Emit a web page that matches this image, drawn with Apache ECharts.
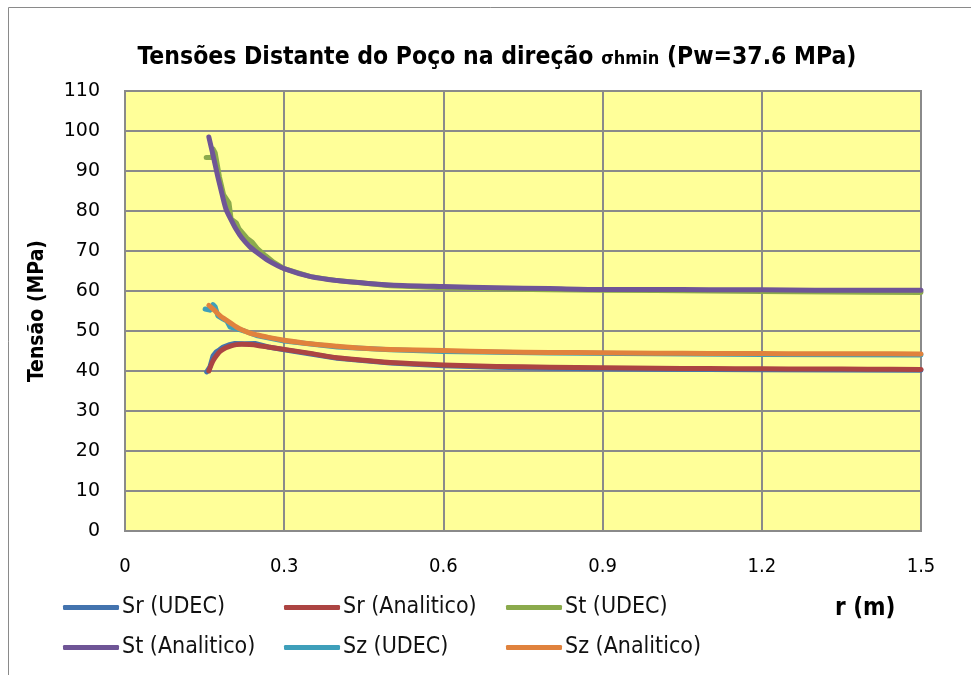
<!DOCTYPE html>
<html>
<head>
<meta charset="utf-8">
<script src="https://cdn.jsdelivr.net/npm/echarts@6/dist/echarts.min.js"></script>
<style>
  html, body { margin: 0; padding: 0; background: #ffffff; }
  #chart { width: 971px; height: 675px; }
</style>
</head>
<body>
<div id="chart"></div>
<script>
// Radial distance (m) for the analytical solution
const rAnalitico = [0.158, 0.165, 0.17, 0.175, 0.18, 0.19, 0.2, 0.21, 0.22, 0.235, 0.25, 0.27, 0.3, 0.35, 0.4, 0.45, 0.5, 0.6, 0.7, 0.8, 0.9, 1.0, 1.1, 1.2, 1.3, 1.4, 1.5];
const srAnalitico = [40.0, 42.3, 43.4, 44.3, 45.0, 45.8, 46.3, 46.6, 46.7, 46.6, 46.4, 46.0, 45.4, 44.4, 43.3, 42.7, 42.1, 41.5, 41.15, 40.95, 40.8, 40.7, 40.6, 40.55, 40.5, 40.45, 40.4];
const stAnalitico = [98.5, 94.5, 91.5, 88.5, 85.8, 80.6, 77.8, 75.3, 73.3, 71.1, 69.5, 67.6, 65.6, 63.6, 62.6, 62.0, 61.5, 61.1, 60.8, 60.6, 60.4, 60.4, 60.3, 60.3, 60.2, 60.2, 60.2];
const szAnalitico = [56.4, 55.6, 55.0, 54.3, 53.7, 52.8, 51.9, 51.0, 50.3, 49.5, 49.0, 48.4, 47.7, 46.8, 46.2, 45.7, 45.4, 45.1, 44.8, 44.65, 44.55, 44.45, 44.4, 44.35, 44.3, 44.3, 44.25];

// UDEC numerical results (radius, stress)
const rSrUdec = [0.154, 0.16, 0.166, 0.172, 0.178, 0.185, 0.195, 0.207, 0.225, 0.245, 0.27, 0.3, 0.4, 0.5, 0.6, 0.7, 0.8, 0.9, 1.0, 1.2, 1.5];
const srUdec = [39.8, 41.0, 43.8, 44.8, 45.3, 46.0, 46.5, 46.9, 46.8, 46.9, 46.0, 45.3, 43.2, 42.0, 41.3, 40.95, 40.7, 40.55, 40.45, 40.3, 40.2];
const rStUdec = [0.153, 0.165, 0.166, 0.17, 0.178, 0.186, 0.196, 0.2, 0.21, 0.215, 0.23, 0.24, 0.25, 0.265, 0.28, 0.3, 0.35, 0.4, 0.5, 0.6, 0.7, 0.8, 0.9, 1.0, 1.2, 1.4, 1.5];
const stUdec = [93.4, 93.4, 95.5, 94.5, 88.5, 84.0, 82.0, 78.0, 77.0, 75.5, 73.2, 72.2, 70.5, 68.8, 67.2, 65.6, 63.6, 62.6, 61.3, 60.8, 60.5, 60.3, 60.2, 60.1, 59.9, 59.7, 59.6];
const rSzUdec = [0.151, 0.16, 0.166, 0.17, 0.175, 0.185, 0.192, 0.198, 0.21, 0.225, 0.25, 0.3, 0.4, 0.5, 0.6, 0.8, 1.0, 1.2, 1.5];
const szUdec = [55.5, 55.2, 56.6, 56.0, 53.8, 53.0, 52.5, 51.0, 50.6, 50.0, 48.8, 47.5, 46.0, 45.3, 44.9, 44.5, 44.3, 44.1, 44.0];

const xTicks = [0, 0.3, 0.6, 0.9, 1.2, 1.5];
const yTicks = [0, 10, 20, 30, 40, 50, 60, 70, 80, 90, 100, 110];

const seriesNames = ['Sr (UDEC)', 'Sr (Analitico)', 'St (UDEC)', 'St (Analitico)', 'Sz (UDEC)', 'Sz (Analitico)'];
const seriesColors = ['#4373AE', '#AC4442', '#8BAA4C', '#6F5596', '#3E9FBA', '#E0823D'];

const pairs = (xs, ys) => xs.map((x, i) => [x, ys[i]]);
const seriesData = [
  pairs(rSrUdec, srUdec),
  pairs(rAnalitico, srAnalitico),
  pairs(rStUdec, stUdec),
  pairs(rAnalitico, stAnalitico),
  pairs(rSzUdec, szUdec),
  pairs(rAnalitico, szAnalitico)
];

const narrow = '"Liberation Sans Narrow", "DejaVu Sans Condensed", "Noto Sans", sans-serif';

const chart = echarts.init(document.getElementById('chart'), null, { renderer: 'canvas' });

// One vertical legend per column keeps the three columns evenly spaced
const legendCol = (names, left) => ({
  data: names,
  left: left,
  top: 596,
  padding: 0,
  orient: 'vertical',
  icon: 'roundRect',
  itemWidth: 56,
  itemHeight: 5,
  itemGap: 17,
  textStyle: { fontFamily: narrow, fontSize: 23, color: '#111', padding: [0, 0, 0, -2] }
});

chart.setOption({
  animation: false,
  backgroundColor: '#ffffff',
  graphic: [
    {
      type: 'rect', z: -10, silent: true,
      shape: { x: 8.5, y: 7.5, width: 1000, height: 700 },
      style: { fill: '#ffffff', stroke: '#8a8a8a', lineWidth: 1 }
    },
    {
      type: 'text', left: 835, top: 597,
      style: { text: 'r (m)', font: 'bold 24px ' + narrow, fill: '#000' }
    }
  ],
  title: {
    text: '{a|Tensões Distante do Poço na direção }{b|σhmin}{a| (Pw=37.6 MPa)}',
    left: 492,
    textAlign: 'center',
    top: 40,
    textStyle: {
      rich: {
        a: { fontFamily: narrow, fontWeight: 'bold', fontSize: 24.5, color: '#000' },
        b: { fontFamily: narrow, fontWeight: 'bold', fontSize: 18, color: '#000', padding: [4, 0, 0, 0] }
      }
    }
  },
  legend: [
    legendCol([seriesNames[0], seriesNames[3]], 63),
    legendCol([seriesNames[1], seriesNames[4]], 284),
    legendCol([seriesNames[2], seriesNames[5]], 506)
  ],
  grid: {
    left: 125, right: 50, top: 91, bottom: 144,
    show: true, backgroundColor: '#FFFF99', borderColor: '#8a8a8a', borderWidth: 2
  },
  xAxis: {
    type: 'value',
    min: xTicks[0], max: xTicks[xTicks.length - 1], interval: 0.3,
    axisLine: { show: false },
    axisTick: { show: false },
    axisLabel: {
      margin: 26, fontFamily: narrow, fontSize: 20, color: '#000',
      formatter: v => String(Math.round(v * 10) / 10)
    },
    splitLine: { show: true, lineStyle: { color: '#8a8a8a', width: 2 } }
  },
  yAxis: {
    type: 'value',
    min: yTicks[0], max: yTicks[yTicks.length - 1], interval: 10,
    name: 'Tensão (MPa)',
    nameLocation: 'middle',
    nameGap: 77,
    nameTextStyle: { fontFamily: narrow, fontWeight: 'bold', fontSize: 21, color: '#000' },
    axisLine: { show: false },
    axisTick: { show: false },
    axisLabel: { margin: 25, fontFamily: '"DejaVu Sans", sans-serif', fontSize: 19, color: '#000' },
    splitLine: { show: true, lineStyle: { color: '#8a8a8a', width: 2 } }
  },
  series: seriesNames.map((name, i) => ({
    name: name,
    type: 'line',
    data: seriesData[i],
    smooth: i % 2 === 1 ? 0.3 : false,
    showSymbol: false,
    symbol: 'none',
    color: seriesColors[i],
    lineStyle: { width: 5, color: seriesColors[i], cap: 'round', join: 'round' },
    z: 2 + i
  }))
});
</script>
</body>
</html>
